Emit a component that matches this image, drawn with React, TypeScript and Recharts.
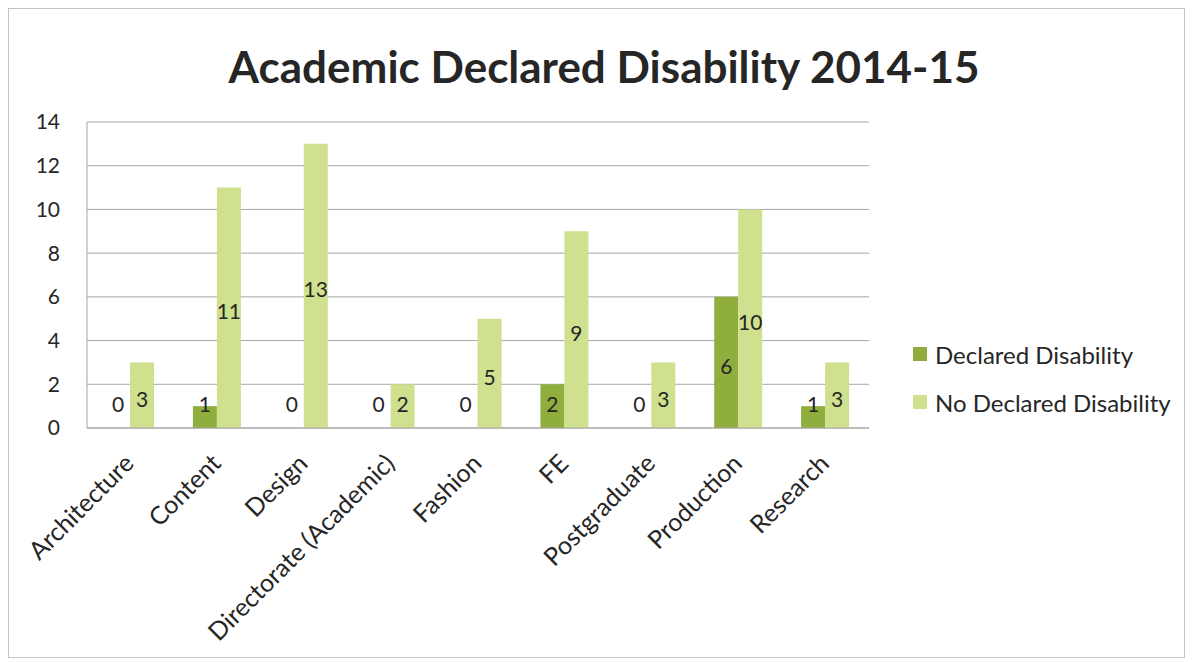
import React from "react";
import { BarChart, Bar, XAxis, YAxis, CartesianGrid, Legend, LabelList } from "recharts";

const categories = [
  "Architecture",
  "Content",
  "Design",
  "Directorate (Academic)",
  "Fashion",
  "FE",
  "Postgraduate",
  "Production",
  "Research",
];
const declared = [0, 1, 0, 0, 0, 2, 0, 6, 1];
const notDeclared = [3, 11, 13, 2, 5, 9, 3, 10, 3];
const yTicks = [0, 2, 4, 6, 8, 10, 12, 14];

const DARK = "#8FAE3E";
const LIGHT = "#CFE08E";
const GRID = "#a6a6a6";
const FONT = "Lato, 'Open Sans', sans-serif";

const rows = categories.map((name, i) => ({
  name,
  declared: declared[i],
  notDeclared: notDeclared[i],
}));

// centred in the bar, but never lower than ~25px above the baseline (like Excel does)
function BarValue(props: any) {
  const vb = props.viewBox || {};
  const x = props.x ?? vb.x;
  const y = props.y ?? vb.y;
  const width = props.width ?? vb.width;
  const height = props.height ?? vb.height ?? 0;
  if (x == null || y == null) return null;
  const base = y + height;
  const cy = Math.min(y + height / 2 + 3, base - 25);
  return (
    <text
      x={x + width / 2}
      y={cy}
      textAnchor="middle"
      dominantBaseline="central"
      fontSize={21}
      fontFamily={FONT}
      fill="#262626"
    >
      {props.value}
    </text>
  );
}

function CatTick(props: any) {
  const { x, y, payload } = props;
  const ax = x + 5;
  const ay = y + 29;
  return (
    <text
      x={ax}
      y={ay}
      textAnchor="end"
      transform={`rotate(-45 ${ax} ${ay})`}
      fontSize={25}
      fontFamily={FONT}
      fill="#262626"
    >
      {payload.value}
    </text>
  );
}

function LegendBox(props: any) {
  const items = props.payload || [];
  return (
    <div style={{ fontFamily: FONT, fontSize: 24, color: "#262626" }}>
      {items.map((it: any) => (
        <div key={it.value} style={{ display: "flex", alignItems: "center", height: 48 }}>
          <span style={{ width: 14, height: 14, background: it.color, marginRight: 8 }} />
          <span>{it.value}</span>
        </div>
      ))}
    </div>
  );
}

export default function App() {
  return (
    <div
      style={{
        position: "relative",
        width: 1177,
        height: 650,
        border: "1px solid #c4c4c4",
        boxSizing: "border-box",
        background: "#fff",
      }}
    >
      <div
        style={{
          position: "absolute",
          left: 595,
          top: 31,
          transform: "translateX(-50%)",
          whiteSpace: "nowrap",
          fontFamily: FONT,
          fontWeight: 700,
          fontSize: 44,
          color: "#262626",
        }}
      >
        Academic Declared Disability 2014-15
      </div>
      <BarChart
        width={1175}
        height={648}
        data={rows}
        margin={{ top: 113, right: 315, bottom: 29, left: 18 }}
        barSize={24}
        barGap={0}
      >
        <CartesianGrid vertical={false} stroke={GRID} />
        <XAxis
          dataKey="name"
          interval={0}
          height={200}
          tickLine={false}
          axisLine={{ stroke: GRID }}
          tick={<CatTick />}
        />
        <YAxis
          domain={[0, 14]}
          ticks={yTicks}
          width={60}
          tickLine={false}
          tickSize={0}
          tickMargin={27}
          axisLine={{ stroke: GRID }}
          tick={{ fontSize: 21, fontFamily: FONT, fill: "#262626" }}
        />
        <Legend
          layout="vertical"
          align="center"
          verticalAlign="middle"
          content={<LegendBox />}
          wrapperStyle={{ left: 904, top: 321, width: 270 }}
        />
        <Bar
          dataKey="declared"
          name="Declared Disability"
          fill={DARK}
          minPointSize={0.01}
          isAnimationActive={false}
        >
          <LabelList dataKey="declared" content={<BarValue />} />
        </Bar>
        <Bar
          dataKey="notDeclared"
          name="No Declared Disability"
          fill={LIGHT}
          isAnimationActive={false}
        >
          <LabelList dataKey="notDeclared" content={<BarValue />} />
        </Bar>
      </BarChart>
    </div>
  );
}
